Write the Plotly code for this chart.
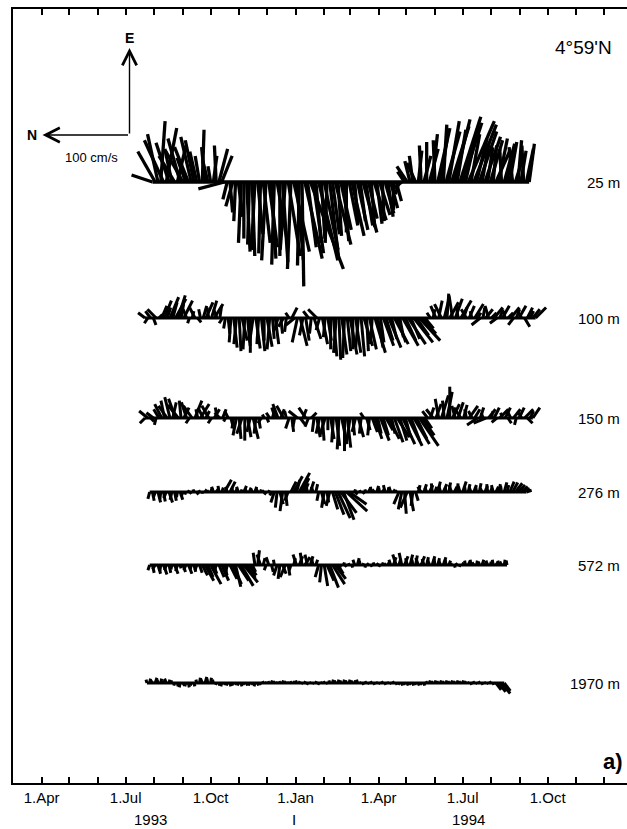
import plotly.graph_objects as go
import pandas as pd

# ---------------- data (cm/s, sampled every 3 days) ----------------
depths = ["25 m", "100 m", "150 m", "276 m", "572 m", "1970 m"]
start_dates = ["1993-07-30", "1993-07-22", "1993-07-22", "1993-07-27", "1993-07-27", "1993-07-24"]
step_days = 3

u_25 = [8,35,55,70,48,62,45,38,30,42, 50,36,28,40,52,48,35,30,60,40, 25,18,30,42,38,30,-8,-20,-35,-28,
        -45,-40,-70,-65,-80,-72,-85,-78,-60,-82, -70,-90,-75,-88,-95,-70,-85,-92,-78,-85,
        -100,-80,-90,-96,-120,-88,-75,-100,-82,-70, -90,-65,-78,-70,-85,-60,-72,-62,-55,-68,
        -58,-50,-62,-48,-55,-45,-58,-50,-42,-52, -44,-48,-38,-45,-36,-40,-30,-32,-22,-14,
        -8,12,18,24,30,22,36,42,30,46, 38,55,48,62,52,66,58,70,64,72, 60,75,68,62,70,55,66,50,58,45,
        52,40,48,42,36,50,38,44,34,46, 40,32,48,36,42,38,44]
v_25 = [24,20,12,-5,22,-12,15,8,18,-10, 14,20,10,16,12,10,8,5,-2,4, 6,3,-4,2,-10,-12,30,5,-3,8,
        2,-5,3,0,-4,2,-3,4,-6,2, -8,5,-10,-5,3,-12,0,-6,6,-14, 4,-18,-8,2,-2,-20,-10,-38,-12,-6,
        -22,-4,-16,2,-10,-8,-18,-4,-12,-6, 0,-10,-14,-4,-12,-6,-16,-8,-10,-4, -14,-6,-12,-2,-10,-6,-8,0,-6,4,
        10,8,12,6,4,10,-4,2,-8,0, -10,-6,2,-14,-8,-4,-16,-12,-20,-18, -10,-24,-22,-14,-30,-10,-26,-12,-20,-8,
        -18,-6,-14,-4,-16,-10,2,-12,-6,-8, 4,-10,-4,-6,2,-8,-6]

u_100 = [6,-6,8,-8,10,4,14,20,12,24, 18,22,26,16,20,10,-6,8,12,-5, 10,14,18,12,20,16,10,14,-6,-12,
         -18,-28,-34,-30,-38,-26,-36,-32,-40,-28, -35,-30,-38,-26,-33,-36,-24,-30,-14,-18,
         -10,-16,6,12,-8,-28,-32,-20,-26,8, -18,-24,10,-14,-30,-22,-26,-36,-44,-40,
         -48,-42,-46,-38,-42,-36,-40,-34,-44,-32, -38,-36,-30,-40,-34,-28,-32,-26,-34,-24,
         -30,-28,-22,-32,-26,-30,-24,-28,-20,-26, -18,-12,-4,6,10,14,20,16,24,28,
         18,26,22,14,20,12,10,14,8,16, 6,-8,12,10,14,6,12,-6,10,14, 8,6,12,-8,10,14,6,-10,12,8, 10,12]
v_100 = [8,4,6,-3,10,-4,-6,-8,-4,-10, -5,-12,-8,-3,-10,4,2,-2,6,-4, 2,-4,-8,2,-6,-10,4,-2,4,2,
         -2,2,-4,3,-2,-6,2,-3,0,4, -5,2,-4,0,-6,3,-2,-4,4,-2, 6,2,4,-6,10,6,-8,4,-4,6,
         2,-8,10,4,-6,2,-4,0,-4,3, -2,-6,2,-4,-8,0,-6,3,-4,-10, -2,-8,2,-12,-6,-4,-12,-8,-14,-6,
         -16,-10,-4,-18,-12,-20,-10,-22,-14,-24, -16,-10,6,4,-2,6,-4,8,-6,-2,
         -10,4,-8,2,-12,-4,6,-6,2,-10, -4,10,-2,-8,4,-6,-10,8,-4,-8, 2,-6,-10,6,-4,-8,4,-6,-6,-4, -8,-12]

u_150 = [-6,8,-4,6,-8,10,16,20,14,24, 18,22,15,20,12,18,-6,14,20,10, 16,12,8,14,-6,10,12,6,10,-4,
         8,-8,-12,-20,-24,-18,-26,-22,-16,-24, -18,-12,-6,4,-5,6,8,12,16,10, 14,8,-12,-16,-10,8,-8,10,12,-10,
         6,-16,-22,-18,-26,-20,-14,-24,-28,-32, -36,-30,-38,-34,-28,-20,-16,-22,-18,6,
         -14,-20,-16,-24,-18,-26,-20,-14,-24,-18, -28,-22,-26,-30,-22,-32,-26,-30,-24,-32,
         -20,-12,8,12,10,16,22,26,20,30, 36,16,14,18,12,15,10,14,8,10, -8,12,6,-6,10,8,12,-5,10,6,
         12,-6,8,10,-8,12,6,10,-6,8, 12]
v_150 = [6,10,-4,8,2,6,8,4,10,6, -4,8,12,2,-6,6,4,10,-8,2, -10,6,-4,8,4,-6,2,6,-4,2,
         4,-2,2,4,-2,6,0,-4,4,-6, 2,-2,4,2,-2,4,-2,4,6,-4, 8,2,4,-2,2,10,-6,-4,8,4,
         -6,2,-4,4,-2,6,0,-4,2,-4, 2,-6,0,-4,4,-2,4,-6,2,4, -4,2,-6,-8,-4,-10,-6,-8,-12,-4,
         -10,-14,-8,-14,-6,-16,-10,-18,-12,-22, -14,-8,6,-4,8,-6,4,-8,2,-6,
         0,-8,4,-6,8,-4,2,-10,4,-6, 12,-4,2,14,-8,-2,-6,6,-10,2, -6,-4,4,-8,2,-6,4,-10,-6,-4, -8]

u_276 = [-8,-10,-6,-12,-8,-11,-7,-12,-9,-10, -6,-9,-5,-3,2,-2,3,-3,2,-2, 3,2,5,6,4,7,5,14,6,12,
         5,4,6,3,7,4,5,3,6,4, 3,2,-3,2,-4,-12,-18,-14,-22,-16, -10,12,18,14,22,16,10,8,12,6,
         9,-10,-14,-18,-12,-16,-20,-26,-30,-24, -32,-22,-14,-4,3,-3,2,-2,3,4,
         6,3,7,5,4,8,5,6,3,2, -14,-20,-25,-18,-22,-16,-10,8,6,9, 5,8,10,6,12,7,9,5,11,8,
         6,10,7,12,6,9,5,8,6,10, 4,7,9,5,8,6,9,7,11,8, 12,11,10,8,6,4,2]
v_276 = [2,-2,2,-3,1,-2,3,-4,2,-2, 1,-3,2,1,-1,2,1,-2,1,0, -2,1,-2,2,-3,1,-2,-8,2,-6,
         1,-2,2,-1,-3,2,-2,1,-2,2, -1,1,2,-1,2,4,2,-4,3,-2, 4,-6,-10,-4,-12,-8,-4,2,-4,2,
         -2,2,-4,3,-2,4,-6,-10,-14,-18, -12,-24,-20,2,-1,2,1,-2,1,-2,
         1,2,-2,1,-3,2,-1,2,-2,1, 6,4,-2,8,-4,2,-3,-2,4,-3, 2,-4,1,-2,-3,2,-4,1,-2,3,
         -3,-1,2,-4,1,-2,2,-3,1,-2, 2,-3,1,-2,2,-3,-2,1,-3,-2, -5,-6,-8,-8,-8,-7,-6]

u_572 = [-6,-9,-5,-10,-7,-11,-6,-9,-5,-10, -7,-4,-8,-6,-10,-5,-8,-6,-9,-12, -18,-14,-22,-10,-8,-14,-18,-12,-10,-16,
         -22,-25,-18,-24,-20,-15,-12,-8,14,17, 12,8,-6,9,-8,6,-12,-16,-10,-14, -12,-6,8,12,10,14,9,12,10,8,
         6,-14,-20,-24,-18,-26,-22,-16,-10,-4, 3,-2,2,-3,6,8,5,2,-3,2, -2,3,2,-2,3,2,4,6,9,12,
         7,14,10,8,12,6,11,8,10,7, 9,6,10,7,8,5,9,6,5,2, -3,2,-2,3,5,4,6,3,5,4, 6,3,5,4,6,3,5,4,6,5]
v_572 = [2,-2,3,-3,1,-4,2,-2,1,-4, 2,-1,-3,2,-4,1,-2,2,-3,-6, -10,-6,-12,-4,2,-6,-8,-3,2,-8,
         -10,-6,-12,-14,-16,-10,-8,-4,2,-2, 4,-2,2,3,-2,1,4,2,-4,6, -2,2,-2,4,-4,2,-6,3,-3,2,
         -2,4,2,-4,-8,-10,-14,-12,-6,2, -1,2,1,-1,2,-2,1,-1,1,2, -1,1,-2,1,-1,1,-2,2,-3,4,
         -2,3,-4,2,-3,1,-2,3,-4,2, -2,2,-3,1,-2,2,-3,1,-2,1, -1,2,1,-1,1,-2,1,2,-1,1, -2,1,2,-1,1,-2,1,2,-1,1]

u_1970 = [4,5,3,6,4,5,3,5,4,3, -3,-4,-5,-3,-4,-5,-3,-4, 4,6,5,7,5,6,4,
          -2,-3,-4,-2,-3,-4,-3,-2,-3,-4,-2,-3,-3,-2,-4,-3,-2,
          2,1,2,3,2,1,2,3,2,1,2,2,3,2, -1,2,-2,1,-1,2,-2,1,2,-1, 3,4,3,4,3,4,3,4,3,3,4,
          1,-2,2,-1,2,-2,1,-1,2,-2,1,-1,2,-2, -2,-3,-2,-3,-2,-3,-2,-3,-2,-3,
          2,3,2,3,2,3,2,3,2,3,2,3,2,3,2, 1,-2,2,-1,2,-2,1,-1,2,-2, -8,-10,-12,-9]
v_1970 = [1,-1,2,-2,1,-1,1,2,-1,1, 1,-1,1,-2,1,-1,1,-1, 1,-1,2,-2,1,-1,1,
          1,-1,1,-1,1,-1,1,-1,1,-1,1,-1,1,-1,1,-1,1,
          1,-1,1,-1,1,-1,1,-1,1,-1,1,-1,1,-1, 1,-1,1,-1,1,-1,1,-1,1,-1, 1,-1,1,-1,1,-1,1,-1,1,-1,1,
          1,-1,1,-1,1,-1,1,-1,1,-1,1,-1,1,-1, 1,-1,1,-1,1,-1,1,-1,1,-1,
          1,-1,1,-1,1,-1,1,-1,1,-1,1,-1,1,-1,1, 1,-1,1,-1,1,-1,1,-1,1,-1, -6,-8,-10,-7]

u_series = [u_25, u_100, u_150, u_276, u_572, u_1970]
v_series = [v_25, v_100, v_150, v_276, v_572, v_1970]

# ---------------- layout constants ----------------
W, H = 627, 829
ML, MR, MT, MB = 13, 0, 9, 46
PLOT_W = W - ML - MR
PLOT_H = H - MT - MB
PX_PER_DAY = 0.9234          # horizontal time scale
PX_PER_CMS = 0.87            # vector scale (100 cm/s = 87 px)
ORIGIN = pd.Timestamp("1993-03-01")
BOTTOM = MT + PLOT_H
base_rows_px = [182, 318, 418, 492, 565, 683]   # baseline rows of each depth
stick_widths = [3.3, 3.0, 3.0, 3.0, 3.0, 3.0]
DAYS_PER_CMS = PX_PER_CMS / PX_PER_DAY

def ybase(py):
    return (BOTTOM - py) / PX_PER_CMS

def paper(px, py):
    return (px - ML) / PLOT_W, (BOTTOM - py) / PLOT_H

fig = go.Figure()
for name, sd, u, v, bpx, lw in zip(depths, start_dates, u_series, v_series, base_rows_px, stick_widths):
    b = ybase(bpx)
    t0 = (pd.Timestamp(sd) - ORIGIN).days
    n = min(len(u), len(v))
    xs, ys = [], []
    for i in range(n):
        t = t0 + step_days * i
        xs += [t, t - v[i] * DAYS_PER_CMS, None]   # north points left
        ys += [b, b + u[i], None]                  # east points up
    xs += [t0, t0 + step_days * (n - 1), None]
    ys += [b, b, None]
    fig.add_trace(go.Scatter(x=xs, y=ys, mode="lines", name=name,
                             line=dict(color="black", width=lw),
                             hoverinfo="skip", showlegend=False))

# ---------------- axes ----------------
months = pd.date_range("1993-03-01", "1994-12-01", freq="MS")
tickvals = [(m - ORIGIN).days for m in months]
abbr = {1: "1.Jan", 4: "1.Apr", 7: "1.Jul", 10: "1.Oct"}
ticktext = [abbr.get(m.month, "") for m in months]

FONT = "Liberation Sans, Arial, Helvetica, sans-serif"
fig.update_xaxes(range=[0, PLOT_W / PX_PER_DAY], tickvals=tickvals, ticktext=ticktext,
                 ticks="inside", ticklen=6, tickwidth=1.5, tickcolor="black",
                 showline=True, linecolor="black", linewidth=2, mirror="ticks",
                 showgrid=False, zeroline=False,
                 tickfont=dict(family=FONT, size=15, color="black"))
fig.update_yaxes(range=[0, PLOT_H / PX_PER_CMS], showline=True, linecolor="black",
                 linewidth=2, mirror=False, showticklabels=False, ticks="",
                 showgrid=False, zeroline=False)

ann = []
def text(s, px, py, size, xanchor="center", bold=False):
    x, y = paper(px, py)
    ann.append(dict(x=x, y=y, xref="paper", yref="paper", text=(f"<b>{s}</b>" if bold else s),
                    showarrow=False, xanchor=xanchor, yanchor="middle",
                    font=dict(family=FONT, size=size, color="black")))

for name, bpx in zip(depths, base_rows_px):
    text(name, 622, bpx, 15, xanchor="right")
text("4°59'N", 583, 47, 19)
text("a)", 613, 761, 22, bold=True)
text("E", 129.5, 38, 14, bold=True)
text("N", 32, 135, 14, bold=True)
text("100 cm/s", 91, 157, 13)
for s, px in [("1993", 150), ("I", 294), ("1994", 468)]:
    text(s, px, 819, 15)

# compass arrows (100 cm/s)
ox = (129.5 - ML) / PX_PER_DAY
oy = ybase(135)
for hx, hy in [(ox, oy + 100), (ox - 100 * DAYS_PER_CMS, oy)]:
    ann.append(dict(x=hx, y=hy, ax=ox, ay=oy, xref="x", yref="y", axref="x", ayref="y",
                    text="", showarrow=True, arrowhead=5, arrowsize=2.0, arrowwidth=1.4,
                    arrowcolor="black", standoff=0, startstandoff=0))

fig.update_layout(width=W, height=H, margin=dict(l=ML, r=MR, t=MT, b=MB),
                  paper_bgcolor="white", plot_bgcolor="white", annotations=ann,
                  showlegend=False)
fig.write_html("out.html")
